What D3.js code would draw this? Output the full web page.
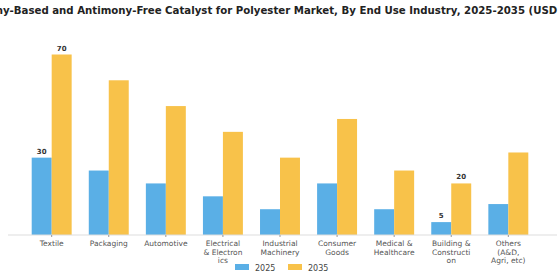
<!DOCTYPE html>
<html>
<head>
<meta charset="utf-8">
<script src="https://d3js.org/d3.v7.min.js"></script>
<style>
  body { margin: 0; background: #fff; }
  #chart { width: 560px; height: 280px; }
  text { font-family: "DejaVu Sans", sans-serif; }
</style>
</head>
<body>
<div id="chart"></div>
<script>
// 数据
const categories = [
  ["Textile"], ["Packaging"], ["Automotive"],
  ["Electrical", "& Electron", "ics"], ["Industrial", "Machinery"],
  ["Consumer", "Goods"], ["Medical &", "Healthcare"],
  ["Building &", "Constructi", "on"], ["Others", "(A&D,", "Agri, etc)"]
];
const years = ["2025", "2035"];
const values2025 = [30, 25, 20, 15, 10, 20, 10, 5, 12];
const values2035 = [70, 60, 50, 40, 30, 45, 25, 20, 32];
const labelled = [0, 7]; // 只给首尾两组标注数值
const colors = ["#5aafe6", "#f8c24a"];
const title = "Antimony-Based and Antimony-Free Catalyst for Polyester Market, By End Use Industry, 2025-2035 (USD Billion)";

const W = 560, H = 280;
const margin = {top: 20, right: 3, bottom: 45, left: 8};
const innerW = W - margin.left - margin.right;
const innerH = H - margin.top - margin.bottom;

const svg = d3.select("#chart").append("svg")
  .attr("width", W).attr("height", H);

// 标题
svg.append("text")
  .attr("x", W / 2 - 2).attr("y", 14)
  .attr("text-anchor", "middle")
  .attr("font-size", "10.2px").attr("font-weight", "bold")
  .attr("fill", "#222")
  .text(title);

const g = svg.append("g").attr("transform", `translate(${margin.left},${margin.top})`);

const idx = categories.map((d, i) => i);
const x = d3.scaleBand().domain(idx).range([23.7, 520.3]).paddingInner(0.3).paddingOuter(0);
const x1 = d3.scaleBand().domain(years).range([0, x.bandwidth()]);
const y = d3.scaleLinear().domain([0, 70]).range([innerH, innerH - 180.5]);

const series = [values2025, values2035];

// 柱子
years.forEach((yr, s) => {
  g.selectAll(".bar" + s)
    .data(series[s])
    .enter().append("rect")
    .attr("x", (d, i) => x(i) + x1(yr))
    .attr("y", d => y(d))
    .attr("width", x1.bandwidth())
    .attr("height", d => y(0) - y(d))
    .attr("fill", colors[s]);

  g.selectAll(".lbl" + s)
    .data(series[s].map((v, i) => ({v, i})).filter(d => labelled.includes(d.i)))
    .enter().append("text")
    .attr("x", d => x(d.i) + x1(yr) + x1.bandwidth() / 2)
    .attr("y", d => y(d.v) - 4)
    .attr("text-anchor", "middle")
    .attr("font-size", "7px").attr("font-weight", "bold")
    .attr("fill", "#333")
    .text(d => d.v);
});

// x 轴
const xAxis = g.append("g")
  .attr("transform", `translate(0,${innerH})`)
  .call(d3.axisBottom(x).tickSize(2).tickSizeOuter(0).tickFormat(""));
xAxis.select(".domain").attr("stroke", "#ddd").attr("d", `M0,0H${innerW}`);
xAxis.selectAll(".tick line").attr("stroke", "#999");
xAxis.selectAll(".tick").each(function (d) {
  const t = d3.select(this).append("text")
    .attr("fill", "#555").attr("font-size", "7.5px")
    .attr("text-anchor", "middle");
  categories[d].forEach((line, k) => {
    t.append("tspan").attr("x", 0).attr("y", 11 + k * 8.5).text(line);
  });
});

// 图例
const legend = svg.append("g").attr("transform", "translate(235,264)");
years.forEach((yr, s) => {
  const lg = legend.append("g").attr("transform", `translate(${s * 53},0)`);
  lg.append("rect").attr("width", 14).attr("height", 6).attr("fill", colors[s]);
  lg.append("text").attr("x", 20).attr("y", 6.5)
    .attr("font-size", "8px").attr("fill", "#444").text(yr);
});
</script>
</body>
</html>
